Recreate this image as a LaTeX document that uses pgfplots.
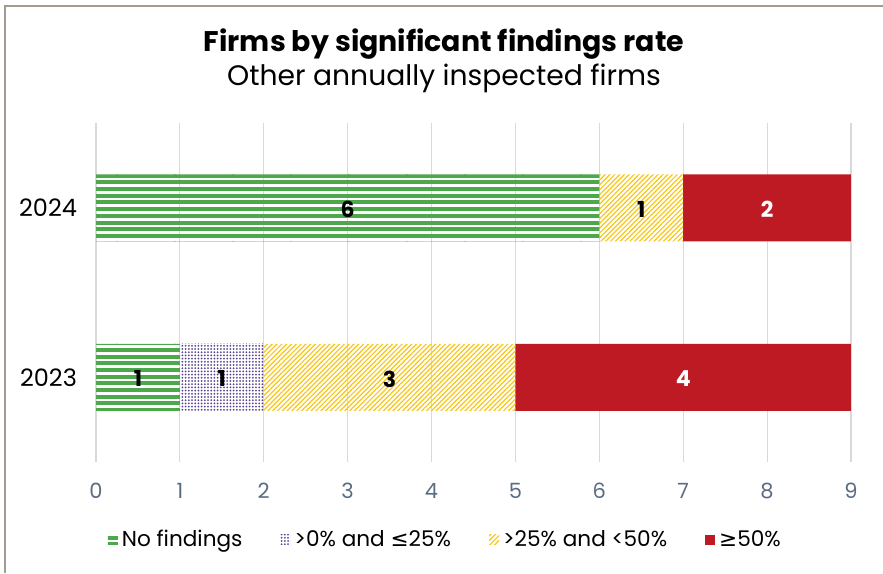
\documentclass[border=0pt]{standalone}
\usepackage{fontspec}
\setmainfont{Poppins}
\newfontfamily\symf{DejaVu Sans}
\usepackage{pgfplots}
\pgfplotsset{compat=1.18}
\usetikzlibrary{patterns.meta}
\definecolor{nfgreen}{HTML}{4CA84A}
\definecolor{lowpurple}{HTML}{5B4393}
\definecolor{midyellow}{HTML}{F7C514}
\definecolor{highred}{HTML}{BE1A24}
\definecolor{frameclr}{HTML}{A39A90}
\definecolor{tickclr}{HTML}{5A6B82}
\definecolor{gridclr}{HTML}{D9D9D9}
% thick horizontal stripes for the "no findings" bars (tiles overlap to hide seams)
\pgfdeclarepattern{name=hstripes, type=uncolored,
  bottom left={\pgfpoint{0pt}{0pt}}, top right={\pgfpoint{30pt}{3.35pt}},
  tile size={\pgfpoint{29pt}{3.35pt}},
  code={\pgfpathrectangle{\pgfpoint{0pt}{0pt}}{\pgfpoint{30pt}{2pt}}\pgfusepath{fill}}}
\begin{document}
\begin{tikzpicture}
\path[use as bounding box] (0,0) rectangle (441.5pt,-286.5pt);
\draw[frameclr, line width=0.8pt] (2.6pt,-286.5pt) -- (2.6pt,-3pt) -- (441.5pt,-3pt);
\node[font=\bfseries\fontsize{14.2}{16}\selectfont] at (222pt,-22pt) {Firms by significant findings rate};
\node[font=\fontsize{14.1}{16}\selectfont] at (222pt,-39pt) {Other annually inspected firms};
\begin{axis}[
  at={(48pt,-231pt)}, anchor=south west,
  scale only axis, width=377.5pt, height=169.5pt,
  xbar stacked, bar width=33.5pt,
  xmin=0, xmax=9, ymin=-0.5, ymax=1.5,
  xtick={0,...,9}, ytick={0,1}, yticklabels={2023,2024},
  axis line style={draw=none}, tick style={draw=none},
  xmajorgrids, grid style={gridclr, line width=0.6pt},
  /pgf/number format/assume math mode=true,
  xticklabel style={tickclr, font=\fontsize{10.5}{12}\selectfont, yshift=-7pt},
  yticklabel style={black, font=\fontsize{12}{14}\selectfont, xshift=-6pt},
  visualization depends on=rawx \as \rawx,
  nodes near coords={\ifdim\rawx pt>0pt\pgfmathprintnumber{\rawx}\fi},
  nodes near coords align={center},
  every node near coord/.append style={font=\bfseries\fontsize{11}{13}\selectfont, black, yshift=-0.8pt},
  legend columns=4,
  legend style={at={(0.464,-0.23)}, anchor=center, draw=none, fill=none,
    font=\fontsize{10.8}{13}\selectfont,
    /tikz/every even column/.append style={column sep=17pt}},
  legend image code/.code={\fill[#1] (-3pt,-2.5pt) rectangle (2pt,2.5pt);},
]
\addplot[draw=none, pattern=hstripes, pattern color=nfgreen]
  coordinates {(1,0) (6,1)};
\addlegendentry{No findings}
\addplot[draw=none, pattern={Dots[distance=1.6pt,radius=0.5pt]}, pattern color=lowpurple]
  coordinates {(1,0) (0,1)};
\addlegendentry{>0\% and {\symf≤}25\%}
\addplot[draw=none, pattern={Lines[angle=45,distance=1.7pt,line width=0.6pt]}, pattern color=midyellow]
  coordinates {(3,0) (1,1)};
\addlegendentry{>25\% and <50\%}
\addplot[draw=none, fill=highred, every node near coord/.append style={white}]
  coordinates {(4,0) (2,1)};
\addlegendentry{{\symf≥}50\%}
\end{axis}
\end{tikzpicture}
\end{document}
